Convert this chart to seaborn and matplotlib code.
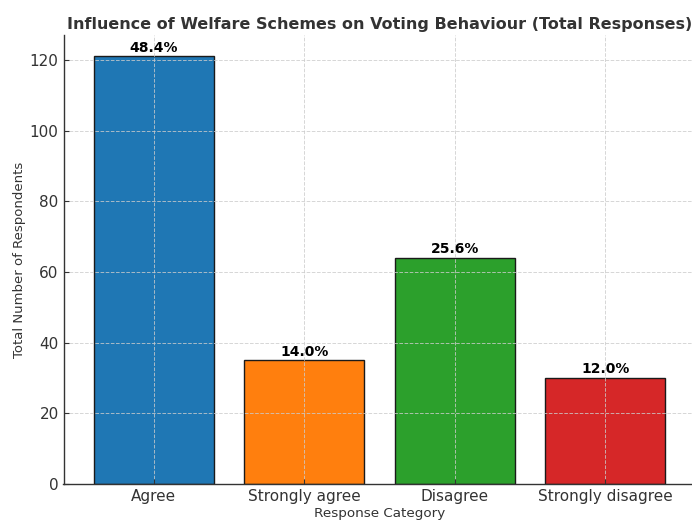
import matplotlib
matplotlib.use("Agg")
import matplotlib.pyplot as plt
import seaborn as sns
import pandas as pd

categories = ["Agree", "Strongly agree", "Disagree", "Strongly disagree"]
counts = [121, 35, 64, 30]
percent_labels = ["48.4%", "14.0%", "25.6%", "12.0%"]
colors = ["#1f77b4", "#ff7f0e", "#2ca02c", "#d62728"]
y_ticks = [0, 20, 40, 60, 80, 100, 120]

sns.set_style("whitegrid")
plt.rcParams["font.family"] = ["DejaVu Sans"]

df = pd.DataFrame({"Response": categories, "Count": counts})

fig = plt.figure(figsize=(6.92, 5.2), dpi=100)
ax = fig.add_axes([63.5 / 692, 36 / 520, 632 / 692, 449 / 520])

sns.barplot(data=df, x="Response", y="Count", hue="Response", palette=colors,
            order=categories, hue_order=categories, width=0.8, saturation=1,
            edgecolor="#1a1a1a", linewidth=1.0, legend=False, ax=ax)

for i, (c, lab) in enumerate(zip(counts, percent_labels)):
    ax.text(i, c + 0.5, lab, ha="center", va="bottom", fontsize=10,
            fontweight="bold", color="black", zorder=5)

ax.set_xlim(-0.6, 3.6)
ax.set_ylim(0, 127.05)
ax.set_yticks(y_ticks)

# dashed grid drawn over the bars
ax.grid(True, linestyle="--", color="#cccccc", linewidth=0.7, alpha=0.8)
ax.set_axisbelow(False)
for b in ax.patches:
    b.set_zorder(1)
for gl in ax.get_xgridlines() + ax.get_ygridlines():
    gl.set_zorder(2)

for s in ["top", "right"]:
    ax.spines[s].set_visible(False)
for s in ["left", "bottom"]:
    ax.spines[s].set_color("#333333")
    ax.spines[s].set_linewidth(1.0)
    ax.spines[s].set_zorder(4)

ax.tick_params(axis="both", which="both", length=3.5, width=0.8, color="#333333",
               labelcolor="#333333", labelsize=11, direction="in",
               left=True, bottom=True, pad=3.5)

ax.set_xlabel("Response Category", fontsize=9.7, color="#333333", labelpad=2)
ax.set_ylabel("Total Number of Respondents", fontsize=9.5, color="#333333",
              labelpad=3)
ax.set_title("Influence of Welfare Schemes on Voting Behaviour (Total Responses)",
             fontsize=11.5, fontweight="bold", color="#333333", pad=4.5)

fig.savefig("out.png", dpi=100)
